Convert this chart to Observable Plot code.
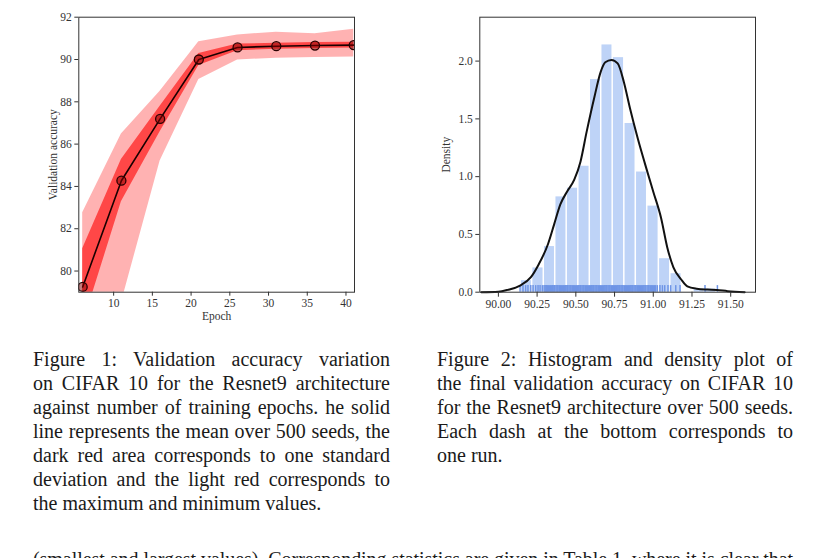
<!DOCTYPE html>
<html>
<head>
<meta charset="utf-8">
<script src="https://cdn.jsdelivr.net/npm/d3@7"></script>
<script src="https://cdn.jsdelivr.net/npm/@observablehq/plot@0.6"></script>
<style>
  html, body { margin: 0; padding: 0; background: #fff; }
  body { width: 817px; height: 558px; overflow: hidden; position: relative; }
  .fig { position: absolute; top: 0; }
  .caption {
    position: absolute; font-family: "Liberation Serif", "Times New Roman", serif;
    font-size: 20px; line-height: 24px; color: #1a1a1a;
  }
  .caption .ln { white-space: nowrap; text-align: justify; text-align-last: justify; }
  .caption .ln.last { text-align-last: left; }
</style>
</head>
<body>
<div id="fig1" class="fig" style="left:0px"></div>
<div id="fig2" class="fig" style="left:420px"></div>
<div id="cap1" class="caption" style="left:33px; top:347px; width:357px"></div>
<div id="cap2" class="caption" style="left:437px; top:347px; width:356px"></div>
<div id="cap3" class="caption" style="left:33px; top:547px; width:760px"></div>
<script>
// ---- Figure 1: validation accuracy vs. epochs (500 seeds) ----
const epochs  = [6, 11, 16, 21, 26, 31, 36, 41];
const meanAcc = [79.25, 84.27, 87.19, 90.0, 90.57, 90.63, 90.66, 90.68];
const stdAcc  = [1.8, 1.0, 0.6, 0.28, 0.16, 0.14, 0.14, 0.14];
const minAcc  = [72.0, 78.5, 85.2, 89.05, 89.98, 90.06, 90.1, 90.12];
const maxAcc  = [82.75, 86.48, 88.5, 90.84, 91.16, 91.29, 91.22, 91.43];
const epochTicks = [10, 15, 20, 25, 30, 35, 40];
const accTicks = [80, 82, 84, 86, 88, 90, 92];

// ---- Figure 2: histogram + KDE of final accuracy ----
const binEdges = [90.144, 90.218, 90.293, 90.367, 90.441, 90.516, 90.590, 90.664, 90.738,
                  90.813, 90.887, 90.961, 91.036, 91.110, 91.184, 91.259, 91.333, 91.407];
const binDensity = [0.10, 0.21, 0.395, 0.825, 0.90, 1.09, 1.84, 2.14, 2.03,
                    1.46, 1.04, 0.745, 0.29, 0.16, 0, 0.027, 0.027];
const kdeX = [89.89, 90.00, 90.06, 90.14, 90.21, 90.26, 90.32, 90.36, 90.40, 90.445, 90.49,
              90.53, 90.57, 90.62, 90.66, 90.69, 90.73, 90.77, 90.81, 90.85, 90.90, 90.96,
              91.00, 91.05, 91.09, 91.13, 91.18, 91.22, 91.28, 91.35, 91.41, 91.48, 91.59];
const kdeY = [0.0, 0.004, 0.02, 0.057, 0.13, 0.24, 0.415, 0.587, 0.76, 0.874, 0.974,
              1.13, 1.39, 1.69, 1.905, 1.99, 2.01, 1.98, 1.82, 1.59, 1.33, 1.05,
              0.87, 0.645, 0.39, 0.215, 0.11, 0.05, 0.03, 0.023, 0.02, 0.009, 0.0];
const rugRuns = [
  90.140, 90.159, 90.176, 90.191, 90.209, 90.224, 90.241, 90.256, 90.269, 90.284, 90.295,
  90.302, 90.309, 90.316, 90.322, 90.330, 90.337, 90.343, 90.351, 90.358, 90.364, 90.372,
  90.379, 90.385, 90.393, 90.400, 90.406, 90.414, 90.421, 90.427, 90.435, 90.442, 90.448,
  90.456, 90.463, 90.469, 90.477, 90.484, 90.490, 90.498, 90.505, 90.511, 90.519, 90.526,
  90.532, 90.540, 90.547, 90.553, 90.561, 90.568, 90.574, 90.582, 90.589, 90.595, 90.603,
  90.610, 90.616, 90.624, 90.631, 90.637, 90.645, 90.652, 90.658, 90.666, 90.673, 90.679,
  90.687, 90.694, 90.700, 90.708, 90.715, 90.721, 90.729, 90.736, 90.742, 90.750, 90.757,
  90.763, 90.771, 90.778, 90.784, 90.792, 90.799, 90.805, 90.813, 90.820, 90.826, 90.834,
  90.841, 90.847, 90.855, 90.862, 90.868, 90.876, 90.883, 90.889, 90.897, 90.904, 90.910,
  90.918, 90.925, 90.931, 90.939, 90.946, 90.952, 90.960, 90.967, 90.973, 90.981, 90.988,
  90.994, 91.002, 91.009, 91.015,
  91.026, 91.043, 91.059, 91.074, 91.095, 91.112, 91.145, 91.173, 91.334, 91.414];
const finalTicks = [90.0, 90.25, 90.5, 90.75, 91.0, 91.25, 91.5];
const densityTicks = [0, 0.5, 1.0, 1.5, 2.0];

// ---- Captions ----
const caption1 = [
  "Figure 1:  Validation accuracy variation",
  "on CIFAR 10 for the Resnet9 architecture",
  "against number of training epochs.  he solid",
  "line represents the mean over 500 seeds, the",
  "dark red area corresponds to one standard",
  "deviation and the light red corresponds to",
  "the maximum and minimum values."
];
const caption2 = [
  "Figure 2:  Histogram and density plot of",
  "the final validation accuracy on CIFAR 10",
  "for the Resnet9 architecture over 500 seeds.",
  "Each dash at the bottom corresponds to",
  "one run."
];
const bodyLine = ["(smallest and largest values). Corresponding statistics are given in Table 1, where it is clear that"];

const serif = "'Liberation Serif', 'Times New Roman', serif";
const axisStyle = {fontFamily: serif, fontSize: "11.5px", color: "#333", background: "transparent", overflow: "visible"};

const runs = epochs.map((e, i) => ({epoch: e, mean: meanAcc[i], std: stdAcc[i], min: minAcc[i], max: maxAcc[i]}));

const fig1 = Plot.plot({
  width: 372, height: 330,
  marginLeft: 78.3, marginRight: 18, marginTop: 16.7, marginBottom: 38.3,
  style: axisStyle,
  x: {domain: [5.5, 41.1]},
  y: {domain: [79, 92]},
  marks: [
    Plot.areaY(runs, {x: "epoch", y1: "min", y2: "max", fill: "red", fillOpacity: 0.3, clip: true}),
    Plot.areaY(runs, {x: "epoch", y1: d => d.mean - d.std, y2: d => d.mean + d.std, fill: "red", fillOpacity: 0.6, clip: true}),
    Plot.line(runs, {x: "epoch", y: "mean", stroke: "#1a0000", strokeWidth: 1.6, clip: true}),
    Plot.dot(runs, {x: "epoch", y: "mean", r: 4.5, fill: "#8b0000", fillOpacity: 0.5, stroke: "#2a0000", strokeWidth: 1.3, clip: true}),
    Plot.frame({stroke: "#333", strokeWidth: 1}),
    Plot.axisX({ticks: epochTicks, tickSize: 4, tickPadding: 3, label: "Epoch", labelAnchor: "center", labelArrow: "none", labelOffset: 28}),
    Plot.axisY({ticks: accTicks, tickSize: 4, tickPadding: 3, label: "Validation accuracy", labelAnchor: "center", labelArrow: "none", labelOffset: 30})
  ]
});
document.getElementById("fig1").appendChild(fig1);

const bins = binDensity.map((d, i) => ({lo: binEdges[i], hi: binEdges[i + 1], density: d}));
const kde = kdeX.map((x, i) => ({x, y: kdeY[i]}));

const fig2 = Plot.plot({
  width: 350, height: 330,
  marginLeft: 59.3, marginRight: 15, marginTop: 16.7, marginBottom: 38.3,
  style: axisStyle,
  x: {domain: [89.88, 91.66]},
  y: {domain: [0, 2.38]},
  marks: [
    Plot.rectY(bins, {x1: "lo", x2: "hi", y: "density", fill: "cornflowerblue", fillOpacity: 0.42, insetLeft: 0.75, insetRight: 0.75}),
    Plot.ruleX(rugRuns, {x: d => d, y1: 0, y2: 0.057, stroke: "#6f95e6", strokeWidth: 1.5}),
    Plot.line(kde, {x: "x", y: "y", curve: "monotone-x", stroke: "#111", strokeWidth: 2}),
    Plot.frame({stroke: "#333", strokeWidth: 1}),
    Plot.axisX({ticks: finalTicks, tickFormat: d3.format(".2f"), tickSize: 5, tickPadding: 3, label: null}),
    Plot.axisY({ticks: densityTicks, tickFormat: d3.format(".1f"), tickSize: 4, tickPadding: 3, label: "Density", labelAnchor: "center", labelArrow: "none", labelOffset: 38})
  ]
});
document.getElementById("fig2").appendChild(fig2);

// Captions: one block per line, justified except the paragraph's last line
function fillCaption(id, lines, lastIsShort) {
  const box = document.getElementById(id);
  lines.forEach((t, i) => {
    const div = document.createElement("div");
    div.className = "ln" + (lastIsShort && i === lines.length - 1 ? " last" : "");
    div.textContent = t;
    box.appendChild(div);
    // squeeze a line slightly if it is wider than its column
    const probe = document.createElement("span");
    probe.textContent = t;
    probe.style.whiteSpace = "nowrap";
    probe.style.visibility = "hidden";
    probe.style.position = "absolute";
    box.appendChild(probe);
    const natural = probe.getBoundingClientRect().width;
    box.removeChild(probe);
    const avail = box.clientWidth;
    if (natural > avail) div.style.letterSpacing = ((avail - natural) / t.length) + "px";
  });
}
fillCaption("cap1", caption1, true);
fillCaption("cap2", caption2, true);
fillCaption("cap3", bodyLine, false);
</script>
</body>
</html>
